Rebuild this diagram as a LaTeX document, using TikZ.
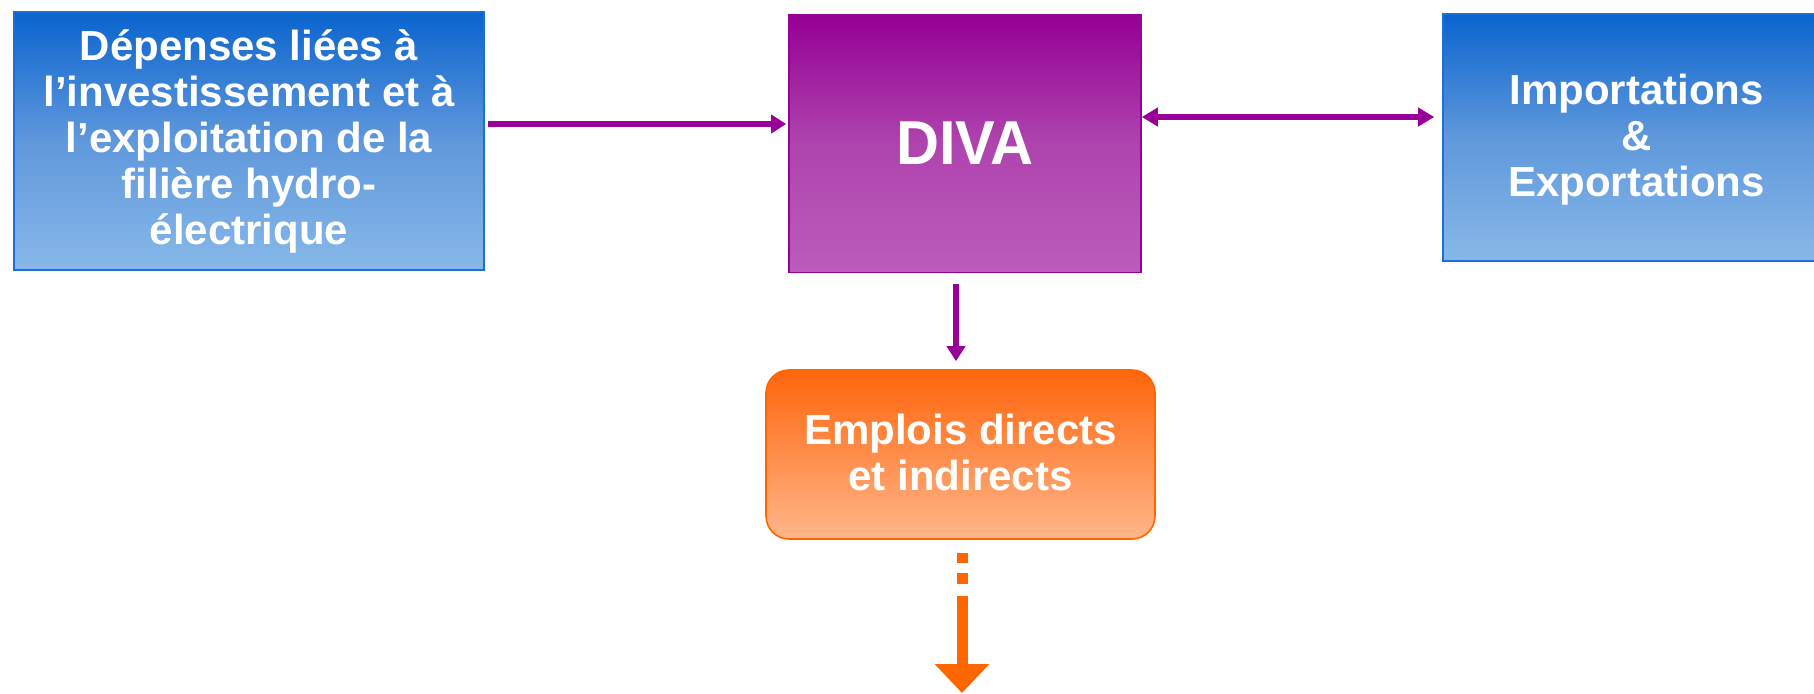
\documentclass[tikz,border=0pt]{standalone}
\usepackage{fontspec}
\setmainfont{Liberation Sans}
\usetikzlibrary{arrows.meta}

\definecolor{bluetop}{HTML}{0A64CE}
\definecolor{bluemid}{HTML}{5F98DC}
\definecolor{bluebot}{HTML}{88B8E8}
\definecolor{blueline}{HTML}{1C6ED8}
\definecolor{purpletop}{HTML}{940094}
\definecolor{purplemid}{HTML}{AE44AE}
\definecolor{purplebot}{HTML}{BC5CBC}
\definecolor{purpleline}{HTML}{990099}
\definecolor{orangetop}{HTML}{FF650C}
\definecolor{orangebot}{HTML}{FFB68A}
\definecolor{orangeline}{HTML}{FF6600}

\begin{document}
\begin{tikzpicture}[x=0.5pt,y=-0.5pt,
  box/.style={rectangle, line width=0.8pt, text=white, align=center,
    inner sep=0pt, font=\bfseries\fontsize{21}{23}\selectfont},
  bluebox/.style={box, draw=blueline, top color=bluetop, bottom color=bluebot,
    middle color=bluemid},
  purplebox/.style={box, draw=purpleline, top color=purpletop, bottom color=purplebot,
    middle color=purplemid},
  orangebox/.style={box, draw=orangeline, top color=orangetop, bottom color=orangebot,
    rounded corners=11.5pt},
  flow/.style={draw=purpleline, line width=2.8pt, -{Triangle[width=9pt,length=7.5pt]}},
  twoway/.style={draw=purpleline, line width=2.8pt,
    {Triangle[width=9pt,length=8pt]}-{Triangle[width=9pt,length=8pt]}},
  outflow/.style={draw=orangeline, line width=5.5pt,
    dash pattern=on 5.3pt off 5pt on 5.5pt off 6pt on 400pt,
    -{Triangle[width=26.5pt,length=14.5pt]}},
]
\useasboundingbox (0,0) rectangle (1814,693);
\clip (0,0) rectangle (1814,693);

% boxes (text height/depth fix where the multi-line text sits in each box)
\node[bluebox, minimum width=235pt, minimum height=129pt,
  text height=108pt, text depth=4.4pt] (dep) at (249,141)
  {Dépenses liées à\\l’investissement et à\\l’exploitation de la\\filière hydro-\\électrique};
\node[purplebox, minimum width=176pt, minimum height=129pt] (diva) at (965,143.5)
  {\fontsize{31}{36}\selectfont\scalebox{0.96}[1]{DIVA}};
\node[bluebox, minimum width=193.5pt, minimum height=123.5pt,
  text height=63.6pt, text depth=4.4pt] (ie) at (1636.5,137.5)
  {Importations\\\&\\Exportations};
\node[orangebox, minimum width=194.5pt, minimum height=84.5pt,
  text height=36pt, text depth=0.5pt] (emp) at (960.5,454.5)
  {Emplois directs\\et indirects};

% guide coordinates for the connectors
\coordinate (r1) at (0,124);
\coordinate (r2) at (0,117);
\coordinate (vx) at (956,0);
\coordinate (ox) at (962,0);
\coordinate (out) at (962,693);

% connectors
\draw[flow, shorten <=1.5pt, shorten >=1pt] (dep.east |- r1) -- (diva.west |- r1);
\draw[twoway, shorten >=4pt] (diva.east |- r2) -- (ie.west |- r2);
\draw[flow, shorten <=5.5pt, shorten >=4pt] (diva.south -| vx) -- (emp.north -| vx);
\draw[outflow, shorten <=6.5pt] (emp.south -| ox) -- (out);
\end{tikzpicture}
\end{document}
